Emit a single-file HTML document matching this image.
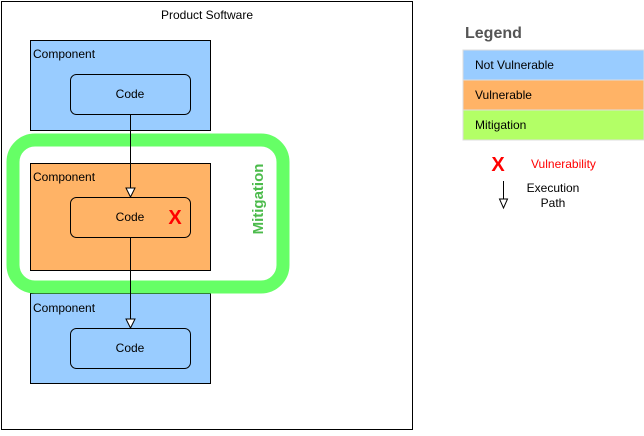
<!DOCTYPE html>
<html><head><style>body{margin:0;background:#fff}</style></head><body>
<svg width="644" height="431" xmlns="http://www.w3.org/2000/svg" font-family="Liberation Sans, Arial, sans-serif">
<rect x="1.5" y="1.5" width="411" height="428" fill="#fff" stroke="#000"/>
<text x="207" y="19" font-size="12" text-anchor="middle">Product Software</text>
<rect x="30.5" y="40.5" width="180" height="90" fill="#99ccff" stroke="#000"/>
<text x="33" y="58" font-size="12">Component</text>
<rect x="70.5" y="74.5" width="120" height="40" rx="6" fill="#99ccff" stroke="#000"/>
<text x="130" y="98" font-size="12" text-anchor="middle">Code</text>
<rect x="30.5" y="293.5" width="180" height="90" fill="#99ccff" stroke="#000"/>
<text x="33" y="312" font-size="12">Component</text>
<rect x="70.5" y="328.5" width="120" height="40" rx="6" fill="#99ccff" stroke="#000"/>
<text x="130" y="352" font-size="12" text-anchor="middle">Code</text>
<rect x="13" y="140" width="270" height="147" rx="22" fill="none" stroke="#66ff66" stroke-width="13"/>
<rect x="30.5" y="163.5" width="180" height="107" fill="#ffb366" stroke="#000"/>
<text x="33" y="181" font-size="12">Component</text>
<rect x="70.5" y="197.5" width="120" height="40" rx="6" fill="#ffb366" stroke="#000"/>
<text x="130" y="221" font-size="12" text-anchor="middle">Code</text>
<text x="175" y="224" font-size="20" font-weight="bold" fill="#ff0000" text-anchor="middle">X</text>
<text transform="translate(263,199) rotate(-90)" font-size="15" font-weight="bold" fill="#4cbb4c" text-anchor="middle">Mitigation</text>
<g stroke="#000" fill="#fff">
<line x1="130.5" y1="114" x2="130.5" y2="188"/>
<polygon points="126,188 135,188 130.5,197"/>
<line x1="130.5" y1="237" x2="130.5" y2="319"/>
<polygon points="126,319 135,319 130.5,328"/>
</g>
<text x="465" y="38" font-size="16" font-weight="bold" fill="#555">Legend</text>
<rect x="463" y="50" width="181" height="30" fill="#99ccff" stroke="#ddd"/>
<text x="475" y="69" font-size="12">Not Vulnerable</text>
<rect x="463" y="80" width="181" height="30" fill="#ffb366" stroke="#ddd"/>
<text x="475" y="99" font-size="12">Vulnerable</text>
<rect x="463" y="110" width="181" height="30" fill="#b3ff66" stroke="#ddd"/>
<text x="475" y="129" font-size="12">Mitigation</text>
<text x="498" y="171" font-size="20" font-weight="bold" fill="#ff0000" text-anchor="middle">X</text>
<text x="531" y="168" font-size="12" fill="#ff0000">Vulnerability</text>
<g stroke="#000" fill="#fff">
<line x1="503.5" y1="181" x2="503.5" y2="199"/>
<polygon points="499.5,199 507.5,199 503.5,208"/>
</g>
<text x="553" y="192" font-size="12" text-anchor="middle">Execution</text>
<text x="553" y="207" font-size="12" text-anchor="middle">Path</text>
</svg>
</body></html>
